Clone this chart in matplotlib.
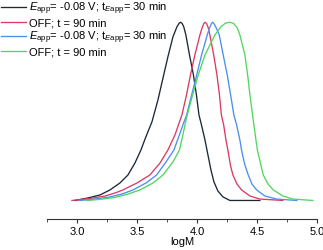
import matplotlib
matplotlib.use("Agg")
import matplotlib.pyplot as plt
from matplotlib.ticker import MultipleLocator

plt.rcParams['font.family'] = ['Liberation Sans', 'DejaVu Sans']
plt.rcParams['mathtext.fontset'] = 'custom'
plt.rcParams['mathtext.rm'] = 'Liberation Sans'
plt.rcParams['mathtext.it'] = 'Liberation Sans:italic'

labels = [r"$E_{\mathrm{app}}$= -0.08 V; t$_{E\mathrm{app}}$= 30 min",
          "OFF; t = 90 min",
          r"$E_{\mathrm{app}}$= -0.08 V; t$_{E\mathrm{app}}$= 30 min",
          "OFF; t = 90 min"]
colors = ['#1c2833', '#dc3a62', '#4a8ff0', '#52d65e']

black_x = [2.983, 3.092, 3.192, 3.275, 3.358, 3.425, 3.483, 3.533, 3.571, 3.625, 3.675,
           3.717, 3.758, 3.800, 3.833, 3.852, 3.864, 3.877, 3.890, 3.908, 3.938, 3.971,
           3.996, 4.017, 4.038, 4.067, 4.092, 4.117, 4.142, 4.175, 4.217, 4.275, 4.525]
black_y = [0, 0.014, 0.031, 0.059, 0.098, 0.143, 0.210, 0.283, 0.351, 0.441, 0.564,
           0.687, 0.806, 0.918, 0.974, 0.995, 1.0, 0.993, 0.975, 0.929, 0.817, 0.704,
           0.592, 0.480, 0.424, 0.340, 0.255, 0.171, 0.104, 0.053, 0.020, 0, 0]

red_x = [2.958, 3.108, 3.233, 3.317, 3.383, 3.500, 3.608, 3.692, 3.758, 3.817, 3.875,
         3.913, 3.946, 3.983, 4.025, 4.044, 4.058, 4.069, 4.080, 4.094, 4.108, 4.140,
         4.167, 4.188, 4.204, 4.223, 4.242, 4.258, 4.279, 4.300, 4.333, 4.373, 4.442,
         4.525, 4.717]
red_y = [0, 0.011, 0.025, 0.042, 0.059, 0.098, 0.143, 0.210, 0.283, 0.368, 0.480,
         0.592, 0.704, 0.817, 0.929, 0.970, 0.993, 1.0, 0.993, 0.970, 0.929, 0.817,
         0.704, 0.592, 0.480, 0.424, 0.340, 0.283, 0.199, 0.143, 0.093, 0.059, 0.025,
         0.008, 0]

blue_x = [3.025, 3.150, 3.275, 3.375, 3.467, 3.575, 3.664, 3.742, 3.808, 3.854, 3.883,
          3.914, 3.956, 3.998, 4.039, 4.086, 4.106, 4.121, 4.131, 4.142, 4.160, 4.186,
          4.219, 4.253, 4.281, 4.308, 4.331, 4.358, 4.375, 4.400, 4.428, 4.458, 4.498,
          4.567, 4.664, 4.833]
blue_y = [0, 0.008, 0.020, 0.036, 0.059, 0.098, 0.143, 0.216, 0.283, 0.368, 0.424,
          0.480, 0.592, 0.704, 0.817, 0.929, 0.970, 0.993, 1.0, 0.993, 0.970, 0.929,
          0.817, 0.704, 0.592, 0.480, 0.424, 0.340, 0.272, 0.199, 0.143, 0.093, 0.059,
          0.025, 0.008, 0]

green_x = [3.083, 3.192, 3.317, 3.425, 3.525, 3.633, 3.717, 3.800, 3.854, 3.883, 3.900,
           3.919, 3.964, 4.011, 4.067, 4.150, 4.200, 4.240, 4.275, 4.305, 4.335, 4.358,
           4.400, 4.423, 4.442, 4.464, 4.475, 4.492, 4.504, 4.553, 4.592, 4.636, 4.717,
           4.800, 4.967]
green_y = [0, 0.006, 0.017, 0.036, 0.059, 0.098, 0.143, 0.216, 0.283, 0.368, 0.424,
           0.480, 0.592, 0.704, 0.817, 0.929, 0.975, 0.996, 1.0, 0.994, 0.970, 0.929,
           0.817, 0.704, 0.592, 0.480, 0.424, 0.340, 0.283, 0.143, 0.093, 0.059, 0.025,
           0.008, 0]

series = [(black_x, black_y), (red_x, red_y), (blue_x, blue_y), (green_x, green_y)]

fig = plt.figure(figsize=(3.23, 2.5), dpi=100)
ax = fig.add_axes([0.1455, 0.124, 0.8355, 0.856])
handles = []
for (xs, ys), c, lab in zip(series, colors, labels):
    h, = ax.plot(xs, ys, color=c, lw=0.95, label=lab, solid_joinstyle='round')
    handles.append(h)

ax.set_xlim(2.75, 5.0)
ax.set_ylim(-0.104, 1.097)
for s in ['top', 'right', 'left']:
    ax.spines[s].set_visible(False)
ax.spines['bottom'].set_linewidth(0.8)
ax.spines['bottom'].set_color('#333333')
ax.set_yticks([])
ax.xaxis.set_major_locator(MultipleLocator(0.5))
ax.xaxis.set_minor_locator(MultipleLocator(0.25))
ax.tick_params(axis='x', which='major', direction='out', length=3, width=0.8,
               labelsize=8, pad=3, color='#333333')
ax.tick_params(axis='x', which='minor', direction='out', length=2, width=0.6, color='#333333')
ax.set_xticks([3.0, 3.5, 4.0, 4.5, 5.0])
ax.set_xlabel('logM', fontsize=8, labelpad=0)

fig.legend(handles=handles, labels=labels, loc='upper left', bbox_to_anchor=(0.0, 1.0),
           frameon=False, fontsize=8, handlelength=2.3, handletextpad=0.3,
           borderpad=0.05, borderaxespad=0.0, labelspacing=0.12)

fig.savefig('out.png', dpi=100)
